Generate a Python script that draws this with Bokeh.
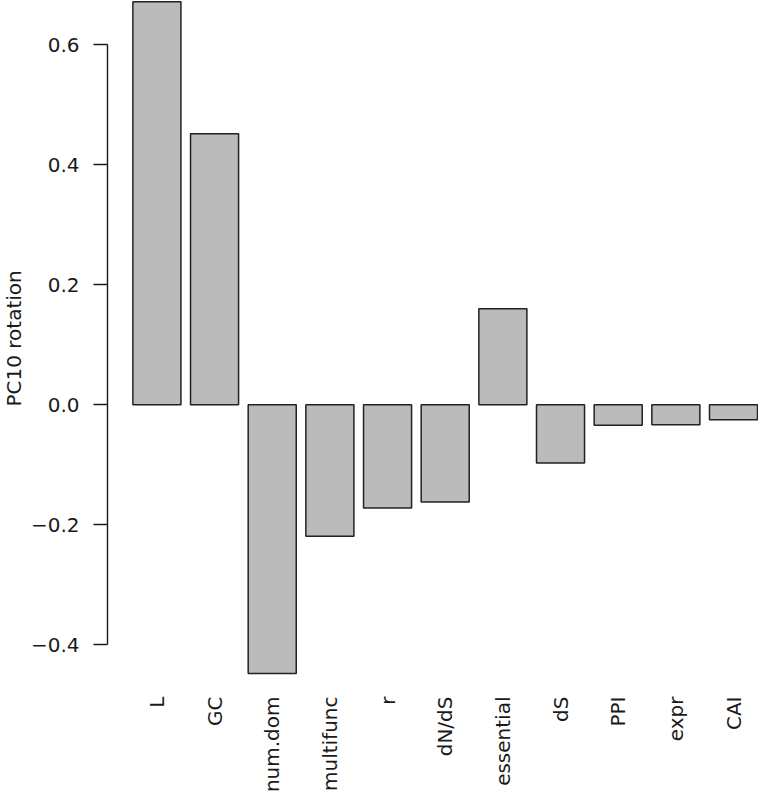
from math import pi
from bokeh.plotting import figure
from bokeh.models import Range1d, FixedTicker, Title
from bokeh.embed import file_html
from bokeh.resources import INLINE

# ---- data ----
categories = ["L", "GC", "num.dom", "multifunc", "r", "dN/dS", "essential",
              "dS", "PPI", "expr", "CAI"]
rotation = [0.672, 0.452, -0.448, -0.219, -0.172, -0.162, 0.160,
            -0.097, -0.034, -0.033, -0.025]
y_ticks = [-0.4, -0.2, 0.0, 0.2, 0.4, 0.6]
y_tick_labels = ["\u22120.4", "\u22120.2", "0.0", "0.2", "0.4", "0.6"]
y_title = "PC10 rotation"

# R barplot geometry: width 1, space 0.2
bar_w = 1.0
space = 0.2
centers = [space + bar_w / 2 + i * (bar_w + space) for i in range(len(categories))]

vmin, vmax = min(rotation), max(rotation)
rng = vmax - vmin
y_lo = vmin - 0.04 * rng
x_lo = space - 0.04 * (len(categories) * (bar_w + space))

FONT = "DejaVu Sans"
FS = "20px"

p = figure(width=758, height=797, output_backend="svg", toolbar_location=None,
           x_range=Range1d(x_lo, 13.22), y_range=Range1d(y_lo, 0.674),
           min_border_left=107, min_border_right=0, min_border_top=0,
           min_border_bottom=97)
p.outline_line_color = None
p.xgrid.visible = False
p.ygrid.visible = False
p.background_fill_color = "white"
p.border_fill_color = "white"

p.vbar(x=centers, top=rotation, bottom=0, width=bar_w,
       fill_color="#BBBBBB", line_color="#222222", line_width=1.5)

# y axis
ya = p.yaxis[0]
ya.ticker = FixedTicker(ticks=y_ticks)
ya.major_label_overrides = {t: l for t, l in zip(y_ticks, y_tick_labels)}
ya.bounds = (min(y_ticks), max(y_ticks))
ya.major_tick_out = 14
ya.major_tick_in = 0
ya.minor_tick_line_color = None
ya.major_label_standoff = 14
ya.major_label_orientation = "horizontal"
ya.major_label_text_font = FONT
ya.major_label_text_font_size = FS
ya.major_label_text_color = "#1a1a1a"
ya.axis_line_width = 1.4
ya.major_tick_line_width = 1.4
ya.axis_line_color = "#1a1a1a"
ya.major_tick_line_color = "#1a1a1a"

# x axis (labels only)
xa = p.xaxis[0]
xa.ticker = FixedTicker(ticks=centers)
xa.major_label_overrides = {c: n for c, n in zip(centers, categories)}
xa.major_label_orientation = pi / 2
xa.axis_line_color = None
xa.major_tick_line_color = None
xa.minor_tick_line_color = None
xa.major_tick_out = 0
xa.major_tick_in = 0
xa.major_label_standoff = -4
xa.major_label_text_font = FONT
xa.major_label_text_font_size = FS
xa.major_label_text_color = "#1a1a1a"

# y title on the left, placed like R's ylab (centred on R's plot region)
ttl = Title(text=y_title, align="left", vertical_align="top", offset=294,
            standoff=0, text_font=FONT, text_font_size=FS,
            text_font_style="normal", text_color="#1a1a1a")
p.add_layout(ttl, "left")

html = file_html(p, INLINE)
html = html.replace("<head>", "<head>\n<style>html, body {margin:0; padding:0; overflow:hidden;}</style>", 1)
open("out.html", "w").write(html)
